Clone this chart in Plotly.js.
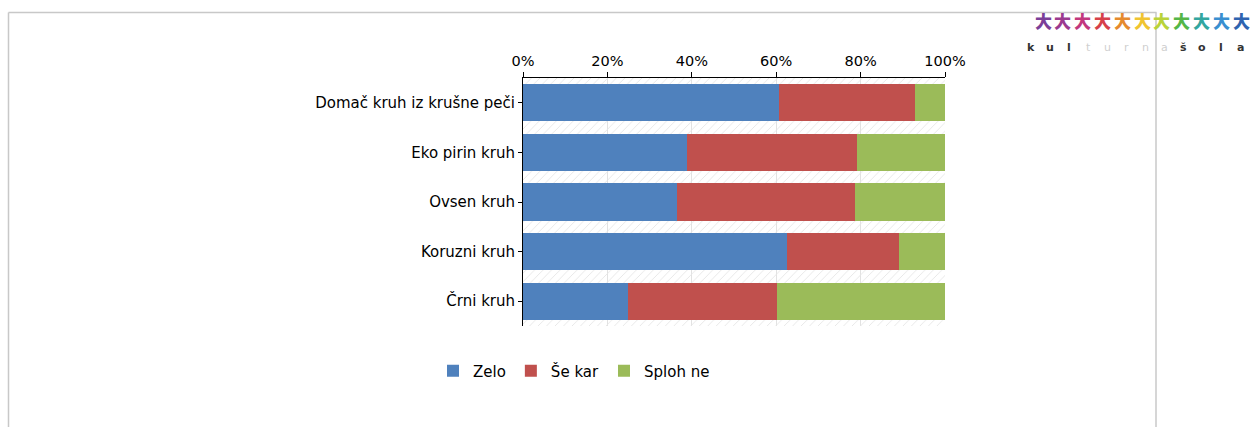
<!DOCTYPE html>
<html><head><meta charset="utf-8">
<script src="https://cdn.plot.ly/plotly-3.0.1.min.js"></script>
<style>html,body{margin:0;padding:0;background:#fff}#chart{width:1251px;height:427px}</style>
</head><body><div id="chart"></div>
<script>
const categories = ["Domač kruh iz krušne peči", "Eko pirin kruh", "Ovsen kruh", "Koruzni kruh", "Črni kruh"];
const seriesNames = ["Zelo", "Še kar", "Sploh ne"];
const zelo = [60.7, 38.9, 36.5, 62.6, 24.9];
const seKar = [32.2, 40.2, 42.2, 26.5, 35.3];
const splohNe = [7.1, 20.9, 21.3, 10.9, 39.8];
const tickVals = [0, 20, 40, 60, 80, 100];
const tickText = ["0%", "20%", "40%", "60%", "80%", "100%"];
const fullScale = [100, 100, 100, 100, 100];
const logoLetters = ["k","u","l","t","u","r","n","a","š","o","l","a"];

const W = 1251, H = 427;
const L = 523, R = 945, T = 78, B = 326;
const px = x => (x - L) / (R - L);
const py = y => (B - y) / (B - T);
const font = "DejaVu Sans, sans-serif";
const colors = ["#4F81BD", "#C0504D", "#9BBB59"];

const traces = [];
// hatched background bands (base subplot, drawn underneath)
traces.push({type:"bar", orientation:"h", y:categories, x:fullScale, width:1,
  showlegend:false, hoverinfo:"skip",
  marker:{color:"rgba(0,0,0,0)", line:{width:0}, pattern:{shape:"/", fgcolor:"#e6e6e6", bgcolor:"rgba(0,0,0,0)", size:6, solidity:0.15}}});
[zelo, seKar, splohNe].forEach((vals, i) => {
  traces.push({type:"bar", orientation:"h", name:seriesNames[i], y:categories, x:vals,
    xaxis:"x2", yaxis:"y2", width:0.75, marker:{color:colors[i], line:{width:0}}});
});

const annotations = [];
const figColors = ["#7b3f98","#9b3a8f","#c2387e","#d6404a","#e58a2e","#f0c431","#b9d33a","#55b648","#33a6a0","#3a8fd0","#2f64b0"];
figColors.forEach((c, i) => {
  annotations.push({xref:"paper", yref:"paper", x:px(1043 + i*19.8), y:py(20), text:"大",
    showarrow:false, font:{family:"Noto Sans CJK SC", size:17, color:c, weight:900}, xanchor:"center", yanchor:"middle"});
});
logoLetters.forEach((ch, i) => {
  const light = (i >= 3 && i <= 7);
  annotations.push({xref:"paper", yref:"paper", x:px(1031 + i*19), y:py(47), text:ch,
    showarrow:false, font:{family:"DejaVu Sans", size:11, color: light ? "#cfcfcf" : "#333333", weight: light ? 400 : 700},
    xanchor:"center", yanchor:"middle"});
});

const layout = {
  width:W, height:H, margin:{l:L, r:W-R, t:T, b:H-B},
  paper_bgcolor:"rgba(0,0,0,0)", plot_bgcolor:"rgba(0,0,0,0)",
  barmode:"stack", bargap:0.25,
  font:{family:font, size:15, color:"#000"},
  xaxis:{side:"top", range:[0,100], tickvals:tickVals, ticktext:tickText, ticks:"outside", ticklen:5,
    tickcolor:"#000", showline:true, linecolor:"#000", linewidth:1, showgrid:true, gridcolor:"#e2e2e2",
    zeroline:false, tickfont:{size:14.5, family:font}, fixedrange:true},
  yaxis:{autorange:"reversed", ticks:"outside", ticklen:4, tickcolor:"#000", showline:true, linecolor:"#000",
    showgrid:false, tickfont:{size:15, family:font}, fixedrange:true},
  xaxis2:{overlaying:"x", range:[0,100], visible:false, fixedrange:true},
  yaxis2:{overlaying:"y", autorange:"reversed", visible:false, fixedrange:true},
  showlegend:true,
  legend:{orientation:"h", x:px(433), xanchor:"left", y:py(371), yanchor:"middle",
    font:{size:15, family:font}, traceorder:"normal", itemwidth:30, bgcolor:"rgba(0,0,0,0)"},
  shapes:[
    {type:"line", xref:"paper", yref:"paper", x0:px(8.5), x1:px(1156.5), y0:py(12.5), y1:py(12.5), line:{color:"#c8c8c8", width:1.5}, layer:"below"},
    {type:"line", xref:"paper", yref:"paper", x0:px(8.5), x1:px(8.5), y0:py(12.5), y1:py(430), line:{color:"#c8c8c8", width:1.5}, layer:"below"},
    {type:"line", xref:"paper", yref:"paper", x0:px(1156), x1:px(1156), y0:py(12.5), y1:py(430), line:{color:"#c8c8c8", width:1.5}, layer:"below"}
  ],
  annotations:annotations
};
Plotly.newPlot("chart", traces, layout, {displayModeBar:false, staticPlot:true});
</script></body></html>
